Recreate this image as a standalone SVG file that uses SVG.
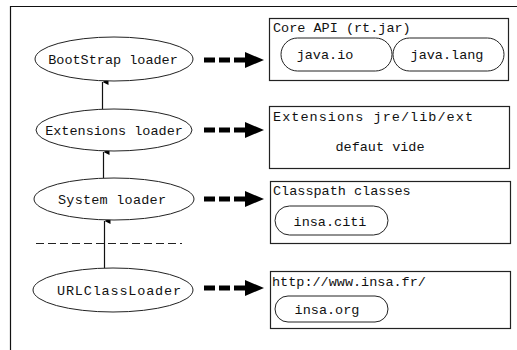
<svg xmlns="http://www.w3.org/2000/svg" width="517" height="350" viewBox="0 0 517 350">
<defs>
<style>
text{font-family:"Liberation Mono","DejaVu Sans Mono",monospace;font-size:13.5px;fill:#111}
.c{text-anchor:middle}
.ell{fill:#fff;stroke:#222;stroke-width:1}
.box{fill:#fff;stroke:#222;stroke-width:1.2}
.pill{fill:#fff;stroke:#222;stroke-width:1}
.thin{stroke:#111;stroke-width:1.2;fill:none}
.thick{stroke:#000;stroke-width:5;stroke-dasharray:11 4;fill:none}
</style>
<marker id="up" viewBox="0 0 6 6" refX="3" refY="0" markerWidth="6" markerHeight="6" markerUnits="userSpaceOnUse" orient="auto-start-reverse">
<path d="M0,6 L3,0 L6,6 Z" fill="#000"/>
</marker>
<marker id="big" viewBox="0 0 19 16" refX="0" refY="8" markerWidth="19" markerHeight="16" markerUnits="userSpaceOnUse" orient="auto">
<path d="M0,0 L19,8 L0,16 Z" fill="#000"/>
</marker>
</defs>
<rect width="517" height="350" fill="#fff"/>
<path d="M10.5,350 V6.5 H517" fill="none" stroke="#111" stroke-width="1.2"/>

<g id="connectors">
<line class="thin" x1="102.5" y1="109" x2="102.5" y2="82" marker-end="url(#up)"/>
<line class="thin" x1="103.5" y1="178" x2="103.5" y2="152" marker-end="url(#up)"/>
<line class="thin" x1="104.5" y1="268" x2="104.5" y2="221" marker-end="url(#up)"/>
<line class="thick" x1="204" y1="60" x2="245" y2="60" marker-end="url(#big)"/>
<line class="thick" x1="204" y1="130" x2="245" y2="130" marker-end="url(#big)"/>
<line class="thick" x1="204" y1="199" x2="245" y2="199" marker-end="url(#big)"/>
<line class="thick" x1="204" y1="288" x2="245" y2="288" marker-end="url(#big)"/>
</g>

<line x1="36" y1="243.5" x2="182" y2="243.5" stroke="#222" stroke-width="1" stroke-dasharray="8 4"/>

<g id="bootstrap">
<ellipse class="ell" cx="114" cy="59" rx="79" ry="22"/>
<text class="c" x="113" y="64">BootStrap loader</text>
</g>
<g id="extensions">
<ellipse class="ell" cx="114" cy="130" rx="78" ry="21"/>
<text class="c" x="114" y="135">Extensions loader</text>
</g>
<g id="system">
<ellipse class="ell" cx="114" cy="199" rx="80" ry="21"/>
<text class="c" x="112" y="204" textLength="108">System loader</text>
</g>
<g id="urlclassloader">
<ellipse class="ell" cx="113" cy="290" rx="80" ry="22"/>
<text class="c" x="119" y="295" textLength="124">URLClassLoader</text>
</g>

<g id="core-api">
<rect class="box" x="269.5" y="18.5" width="239" height="62"/>
<text x="273" y="32">Core API (rt.jar)</text>
<rect class="pill" x="281" y="38" width="111" height="33" rx="16.5"/>
<text class="c" x="325" y="59">java.io</text>
<rect class="pill" x="393" y="38" width="111" height="33" rx="16.5"/>
<text class="c" x="447" y="59">java.lang</text>
</g>
<g id="extensions-dir">
<rect class="box" x="269.5" y="106.5" width="240" height="62"/>
<text x="273" y="121" textLength="200">Extensions jre/lib/ext</text>
<text class="c" x="380" y="151">defaut vide</text>
</g>
<g id="classpath">
<rect class="box" x="270.5" y="181.5" width="240" height="62"/>
<text x="273" y="195">Classpath classes</text>
<rect class="pill" x="275" y="206" width="113" height="29" rx="14.5"/>
<text class="c" x="330" y="226">insa.citi</text>
</g>
<g id="url-source">
<rect class="box" x="270.5" y="271.5" width="240" height="57"/>
<text x="272" y="286">http://www.insa.fr/</text>
<rect class="pill" x="275" y="296" width="113" height="26" rx="13"/>
<text class="c" x="327" y="314">insa.org</text>
</g>
</svg>
